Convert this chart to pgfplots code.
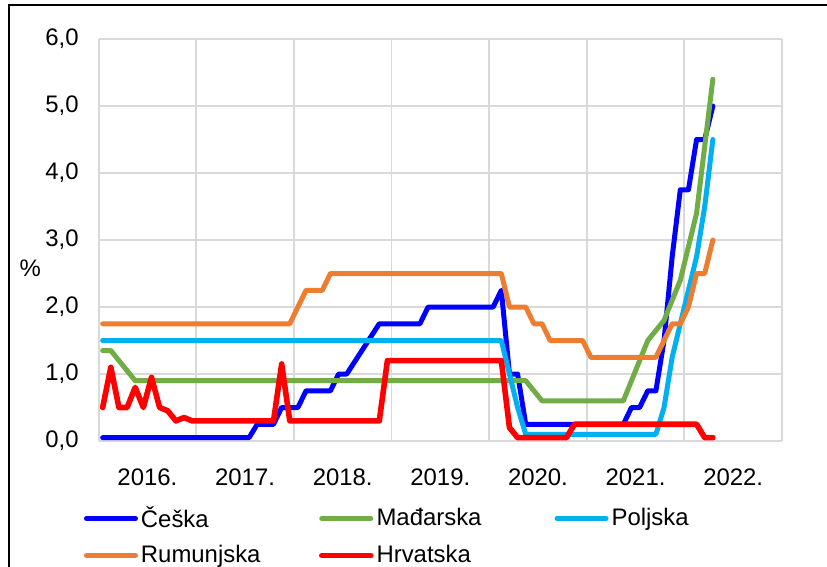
\documentclass[border=0pt]{standalone}
\usepackage{fontspec}
\setmainfont{Liberation Sans}
\usepackage{pgfplots}
\pgfplotsset{compat=1.18}
\definecolor{cz}{HTML}{0000FF}
\definecolor{hu}{HTML}{70AD47}
\definecolor{pl}{HTML}{00B0F0}
\definecolor{ro}{HTML}{ED7D31}
\definecolor{hr}{HTML}{FF0000}
\definecolor{gridc}{HTML}{D9D9D9}
\begin{document}
\begin{tikzpicture}
\useasboundingbox (0,0) rectangle (413.5bp,283.5bp);
\draw[line width=1bp] (4.65bp,0) -- (4.65bp,280.75bp) -- (413.5bp,280.75bp);
\begin{axis}[
  at={(49.3bp,63bp)}, anchor=south west,
  scale only axis, width=341.7bp, height=201bp,
  xmin=-0.5, xmax=83.5, ymin=0, ymax=6,
  axis line style={draw=none},
  xtick={-0.5,11.5,23.5,35.5,47.5,59.5,71.5,83.5}, xticklabels={},
  extra x ticks={5.5,17.5,29.5,41.5,53.5,65.5,77.5},
  extra x tick labels={2016.,2017.,2018.,2019.,2020.,2021.,2022.},
  extra x tick style={grid=none, major tick length=0pt, tick style={draw=none}},
  xticklabel style={yshift=-10.5bp},
  ytick={0,1,2,3,4,5,6},
  yticklabel style={xshift=-6.5bp, /pgf/number format/.cd, fixed, fixed zerofill, precision=1, use comma},
  /pgf/number format/assume math mode=true,
  major tick length=0pt, tick style={draw=none},
  grid=major, major grid style={gridc, line width=0.9bp},
  tick label style={font=\fontsize{12}{14}\selectfont},
  ylabel={\%}, ylabel style={rotate=-90, at={(axis description cs:-0.1,0.43)}, anchor=center, font=\fontsize{12}{14}\selectfont},
  legend columns=3,
  legend cell align=left,
  legend style={at={(axis description cs:-0.022,-0.162)}, anchor=north west, draw=none, fill=none,
    font=\fontsize{12}{14}\selectfont, inner sep=0pt, nodes={inner sep=0pt},
    /tikz/every odd column/.append style={column sep=1.5bp}, row sep=7.5bp},
  legend image code/.code={\draw[#1] (0bp,0bp) -- (24.5bp,0bp);},
  every axis plot/.append style={line width=2.5bp, line join=round, line cap=round},
]
\addplot[cz] coordinates {(0,0.05)(18,0.05)(19,0.25)(21,0.25)(22,0.5)(24,0.5)(25,0.75)(28,0.75)(29,1.0)(30,1.0)(34,1.75)(39,1.75)(40,2.0)(48,2.0)(49,2.25)(50,1.0)(51,1.0)(52,0.25)(64,0.25)(65,0.5)(66,0.5)(67,0.75)(68,0.75)(69,1.5)(70,2.75)(71,3.75)(72,3.75)(73,4.5)(74,4.5)(75,5.0)};
\addlegendentry{\makebox[89bp][l]{Češka}}
\addplot[hu] coordinates {(0,1.35)(1,1.35)(2,1.2)(3,1.05)(4,0.9)(52,0.9)(53,0.75)(54,0.6)(64,0.6)(65,0.9)(66,1.2)(67,1.5)(68,1.65)(69,1.8)(70,2.1)(71,2.4)(72,2.9)(73,3.4)(74,4.4)(75,5.4)};
\addlegendentry{\makebox[89bp][l]{Mađarska}}
\addplot[pl] coordinates {(0,1.5)(49,1.5)(50,1.0)(51,0.5)(52,0.1)(68,0.1)(69,0.5)(70,1.25)(71,1.75)(72,2.25)(73,2.75)(74,3.5)(75,4.5)};
\addlegendentry{\makebox[89bp][l]{Poljska}}
\addplot[ro] coordinates {(0,1.75)(23,1.75)(24,2.0)(25,2.25)(27,2.25)(28,2.5)(49,2.5)(50,2.0)(52,2.0)(53,1.75)(54,1.75)(55,1.5)(59,1.5)(60,1.25)(68,1.25)(69,1.5)(70,1.75)(71,1.75)(72,2.0)(73,2.5)(74,2.5)(75,3.0)};
\addlegendentry{\makebox[89bp][l]{Rumunjska}}
\addplot[hr, line width=2.8bp] coordinates {(0,0.5)(1,1.1)(2,0.5)(3,0.5)(4,0.8)(5,0.5)(6,0.95)(7,0.5)(8,0.45)(9,0.3)(10,0.35)(11,0.3)(21,0.3)(22,1.15)(23,0.3)(34,0.3)(35,1.2)(49,1.2)(50,0.2)(51,0.05)(57,0.05)(58,0.25)(73,0.25)(74,0.05)(75,0.05)};
\addlegendentry{\makebox[89bp][l]{Hrvatska}}
\end{axis}
\end{tikzpicture}
\end{document}
